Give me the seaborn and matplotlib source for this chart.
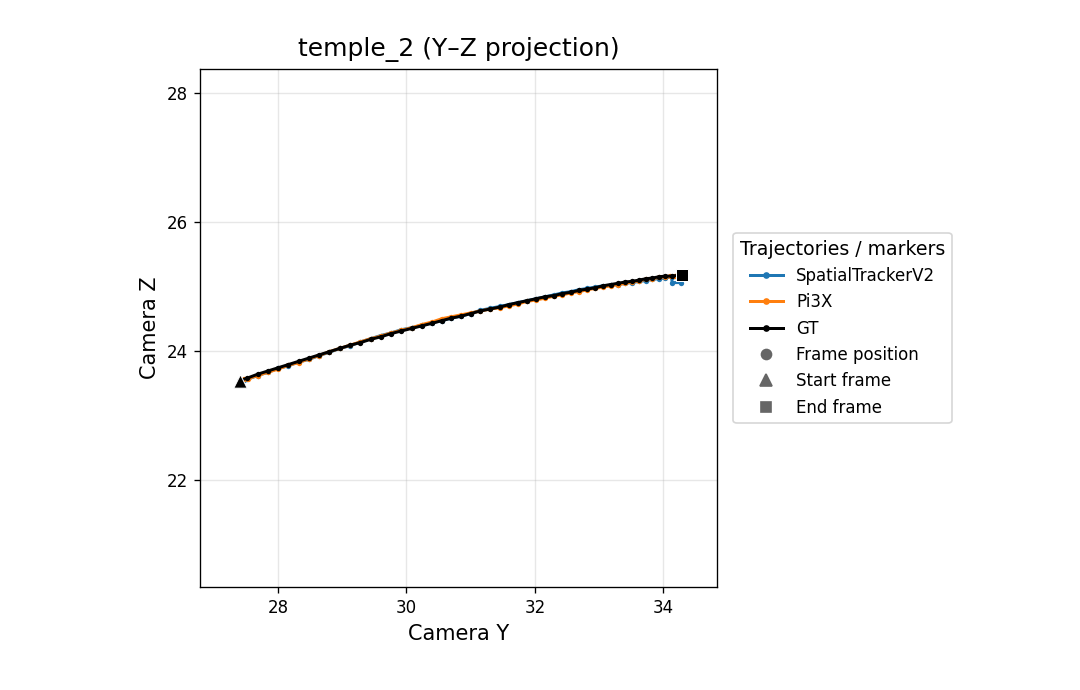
import numpy as np
import pandas as pd
import seaborn as sns
import matplotlib.pyplot as plt
from matplotlib.lines import Line2D

# ---------------- data ----------------
gt_y = [27.40, 27.52, 27.68, 27.84, 28.00, 28.16, 28.32, 28.48, 28.64, 28.80,
        28.96, 29.12, 29.28, 29.44, 29.60, 29.76, 29.92, 30.08, 30.24, 30.40,
        30.55, 30.70, 30.85, 31.00, 31.15, 31.30, 31.45, 31.60, 31.74, 31.88,
        32.02, 32.16, 32.30, 32.43, 32.56, 32.69, 32.82, 32.94, 33.06, 33.18,
        33.30, 33.41, 33.52, 33.63, 33.73, 33.83, 33.93, 34.03, 34.13, 34.29]
gt_z = [23.54, 23.58, 23.64, 23.69, 23.74, 23.79, 23.84, 23.89, 23.94, 23.99,
        24.04, 24.09, 24.13, 24.18, 24.22, 24.27, 24.31, 24.35, 24.39, 24.43,
        24.47, 24.51, 24.54, 24.58, 24.62, 24.65, 24.68, 24.72, 24.75, 24.78,
        24.81, 24.84, 24.86, 24.89, 24.91, 24.94, 24.96, 24.98, 25.01, 25.03,
        25.05, 25.07, 25.08, 25.10, 25.12, 25.13, 25.15, 25.16, 25.16, 25.18]

pi3x_y = [27.47, 27.53, 27.68, 27.84, 28.00, 28.16, 28.32, 28.48, 28.64, 28.80,
          28.96, 29.12, 29.28, 29.44, 29.60, 29.76, 29.92, 30.08, 30.24, 30.40,
          30.55, 30.70, 30.85, 31.00, 31.15, 31.30, 31.45, 31.60, 31.74, 31.88,
          32.02, 32.16, 32.30, 32.43, 32.56, 32.69, 32.82, 32.94, 33.06, 33.18,
          33.30, 33.41, 33.52, 33.63, 33.73, 33.83, 33.93, 34.03, 34.11, 34.18]
pi3x_z = [23.56, 23.57, 23.62, 23.67, 23.72, 23.78, 23.82, 23.88, 23.93, 23.99,
          24.04, 24.09, 24.14, 24.19, 24.23, 24.28, 24.32, 24.36, 24.41, 24.45,
          24.50, 24.53, 24.56, 24.59, 24.62, 24.65, 24.67, 24.70, 24.73, 24.77,
          24.79, 24.82, 24.85, 24.87, 24.90, 24.92, 24.95, 24.97, 24.99, 25.01,
          25.03, 25.05, 25.07, 25.09, 25.11, 25.12, 25.14, 25.15, 25.16, 25.17]

stv2_y = [27.47, 27.52, 27.68, 27.84, 28.00, 28.16, 28.32, 28.48, 28.64, 28.80,
          28.96, 29.12, 29.28, 29.44, 29.60, 29.76, 29.92, 30.08, 30.24, 30.40,
          30.55, 30.70, 30.85, 31.00, 31.15, 31.30, 31.45, 31.60, 31.74, 31.88,
          32.02, 32.16, 32.30, 32.43, 32.56, 32.69, 32.82, 32.94, 33.06, 33.18,
          33.30, 33.41, 33.52, 33.63, 33.73, 33.83, 33.93, 34.03, 34.13, 34.14,
          34.27]
stv2_z = [23.55, 23.56, 23.62, 23.67, 23.73, 23.77, 23.83, 23.87, 23.93, 23.98,
          24.04, 24.08, 24.14, 24.19, 24.24, 24.28, 24.33, 24.36, 24.40, 24.44,
          24.47, 24.51, 24.54, 24.58, 24.63, 24.66, 24.69, 24.72, 24.75, 24.78,
          24.81, 24.84, 24.87, 24.90, 24.92, 24.95, 24.97, 24.99, 25.01, 25.02,
          25.03, 25.05, 25.06, 25.08, 25.09, 25.11, 25.12, 25.13, 25.15, 25.06,
          25.06]

methods = ["SpatialTrackerV2", "Pi3X", "GT"]
colors = {"SpatialTrackerV2": "#1f77b4", "Pi3X": "#ff7f0e", "GT": "black"}
x_ticks = [28, 30, 32, 34]
y_ticks = [22, 24, 26, 28]

# ---------------- plot ----------------
fig = plt.figure(figsize=(9.0, 5.75), dpi=120)
ax = fig.add_axes([0.185, 0.149, 0.479, 0.751])

series = {
    "SpatialTrackerV2": (stv2_y, stv2_z),
    "Pi3X": (pi3x_y, pi3x_z),
    "GT": (gt_y, gt_z),
}
for i, m in enumerate(methods):
    ys, zs = series[m]
    df = pd.DataFrame({"Y": ys, "Z": zs})
    sns.lineplot(data=df, x="Y", y="Z", sort=False, estimator=None,
                 color=colors[m], linewidth=1.8, marker="o", markersize=3.2,
                 markeredgewidth=0, ax=ax, legend=False, zorder=2 + i)

# start / end markers (GT)
start_df = pd.DataFrame({"Y": [gt_y[0]], "Z": [gt_z[0]]})
end_df = pd.DataFrame({"Y": [gt_y[-1]], "Z": [gt_z[-1]]})
sns.scatterplot(data=start_df, x="Y", y="Z", marker="^", s=64, color="black",
                edgecolor="white", linewidth=0.6, ax=ax, zorder=6, legend=False)
sns.scatterplot(data=end_df, x="Y", y="Z", marker="s", s=56, color="black",
                edgecolor="white", linewidth=0.6, ax=ax, zorder=6, legend=False)

ax.set_xlim(26.78, 34.84)
ax.set_ylim(20.34, 28.37)
ax.set_xticks(x_ticks)
ax.set_yticks(y_ticks)
ax.grid(True, alpha=0.3)
ax.set_axisbelow(True)
ax.tick_params(labelsize=10)
ax.set_xlabel("Camera Y", fontsize=12.5)
ax.set_ylabel("Camera Z", fontsize=12.5)
ax.set_title("temple_2 (Y\u2013Z projection)", fontsize=15, pad=8)

handles = [
    Line2D([], [], color=colors["SpatialTrackerV2"], lw=1.8, marker="o", ms=3),
    Line2D([], [], color=colors["Pi3X"], lw=1.8, marker="o", ms=3),
    Line2D([], [], color=colors["GT"], lw=1.8, marker="o", ms=3),
    Line2D([], [], ls="none", color="#666666", marker="o", ms=6),
    Line2D([], [], ls="none", color="#666666", marker="^", ms=7),
    Line2D([], [], ls="none", color="#666666", marker="s", ms=6.5),
]
labels = ["SpatialTrackerV2", "Pi3X", "GT", "Frame position", "Start frame", "End frame"]
ax.legend(handles, labels, title="Trajectories / markers", loc="center left",
          bbox_to_anchor=(1.015, 0.5), fontsize=10, title_fontsize=11.3)

fig.savefig("out.png", dpi=120)
